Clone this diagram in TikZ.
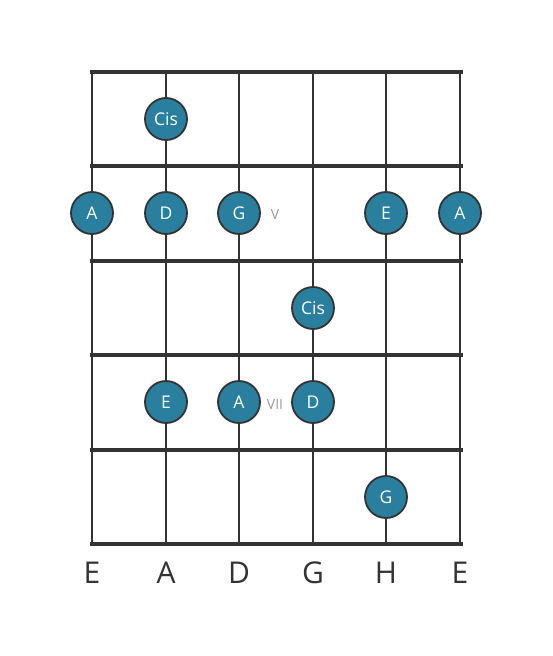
\documentclass[tikz,border=0pt]{standalone}
\usepackage{fontspec}
\setmainfont{Open Sans}
\definecolor{ink}{HTML}{333333}
\definecolor{teal}{HTML}{2A7F9E}
\definecolor{fretnum}{HTML}{9A9A9A}
\begin{document}
\begin{tikzpicture}[x=1pt,y=-1pt,
  stringline/.style={draw=ink,line width=2.6pt},
  fretline/.style={draw=ink,line width=4.8pt},
  note/.style={circle,draw=ink,line width=1.8pt,fill=teal,minimum size=42pt,inner sep=0pt,text=white,font=\fontsize{17.5}{17.5}\selectfont},
  fnum/.style={text=fretnum,font=\fontsize{14}{14}\selectfont,inner sep=0pt},
  sname/.style={text=ink,font=\fontsize{30}{30}\selectfont,inner sep=0pt}]
\useasboundingbox (0,0) rectangle (553,656);
\foreach \x in {92,166,239,313,386,460} \draw[stringline] (\x,72) -- (\x,544);
\foreach \y in {72,166,261,355,450,544} \draw[fretline] (89.5,\y) -- (462.5,\y);
\node[note] (n1) at (166,119) {Cis};
\node[note] (n2) at (92,213) {A};
\node[note] (n3) at (166,213) {D};
\node[note] (n4) at (239,213) {G};
\node[note] (n5) at (386,213) {E};
\node[note] (n6) at (460,213) {A};
\node[note] (n7) at (313,308) {Cis};
\node[note] (n8) at (166,402) {E};
\node[note] (n9) at (239,402) {A};
\node[note] (n10) at (313,402) {D};
\node[note] (n11) at (386,497) {G};
\node[fnum] (f5) at (275,214) {V};
\node[fnum] (f7) at (275,404) {VII};
\node[sname] (s1) at (92,573) {E};
\node[sname] (s2) at (166,573) {A};
\node[sname] (s3) at (239,573) {D};
\node[sname] (s4) at (313,573) {G};
\node[sname] (s5) at (386,573) {H};
\node[sname] (s6) at (460,573) {E};
\end{tikzpicture}
\end{document}
